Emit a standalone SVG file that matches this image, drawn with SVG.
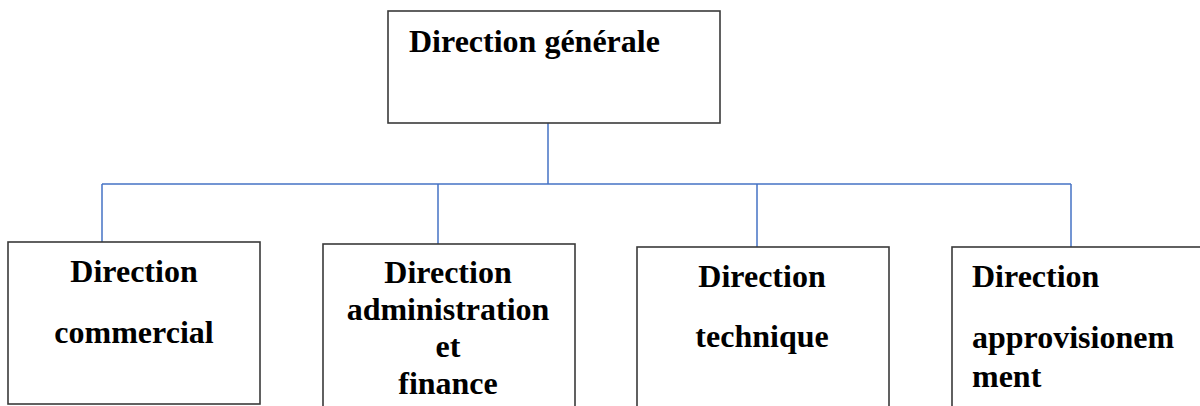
<svg xmlns="http://www.w3.org/2000/svg" width="1200" height="406" viewBox="0 0 1200 406">
  <style>
    .box { fill: #ffffff; stroke: #3a3a3a; stroke-width: 1.6; }
    .lbl { font-family: "Liberation Serif", "Times New Roman", serif; font-size: 32px; font-weight: bold; fill: #000000; }
    .mid { text-anchor: middle; }
    .link { fill: none; stroke: #4472C4; stroke-width: 1.5; }
  </style>
  <rect width="1200" height="406" fill="#ffffff"/>

  <!-- connectors: trunk, bus and drops -->
  <g id="connectors">
    <path class="link" d="M548,123 V184"/>
    <path class="link" d="M102,184 H1071"/>
    <path class="link" d="M102,184 V242"/>
    <path class="link" d="M438,184 V244"/>
    <path class="link" d="M757,184 V247"/>
    <path class="link" d="M1071,184 V247"/>
  </g>

  <g id="direction-generale">
    <rect class="box" x="388" y="11" width="332" height="112"/>
    <text class="lbl" x="409" y="52">Direction générale</text>
  </g>

  <g id="direction-commercial">
    <rect class="box" x="8" y="242" width="252" height="162"/>
    <text class="lbl mid" x="134" y="282">Direction</text>
    <text class="lbl mid" x="134" y="343">commercial</text>
  </g>

  <g id="direction-administration">
    <rect class="box" x="323" y="244" width="252" height="180"/>
    <text class="lbl mid" x="448" y="283">Direction</text>
    <text class="lbl mid" x="448" y="320">administration</text>
    <text class="lbl mid" x="448" y="357">et</text>
    <text class="lbl mid" x="448" y="394">finance</text>
  </g>

  <g id="direction-technique">
    <rect class="box" x="637" y="247" width="252" height="180"/>
    <text class="lbl mid" x="762" y="287">Direction</text>
    <text class="lbl mid" x="762" y="347">technique</text>
  </g>

  <g id="direction-approvisionnement">
    <rect class="box" x="952" y="247" width="260" height="180"/>
    <text class="lbl" x="972" y="287">Direction</text>
    <text class="lbl" x="972" y="348">approvisionem</text>
    <text class="lbl" x="972" y="387">ment</text>
  </g>
</svg>
